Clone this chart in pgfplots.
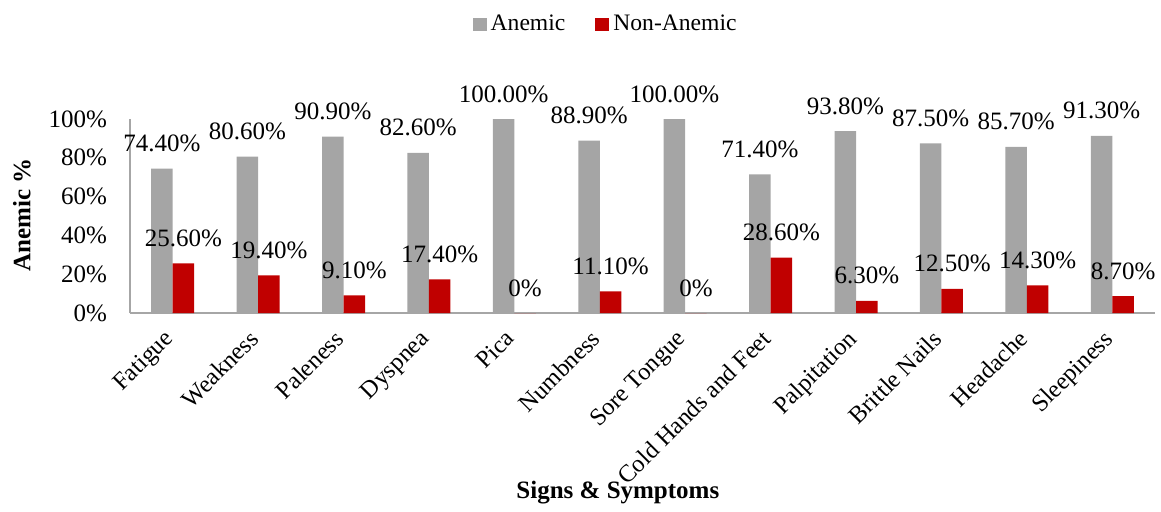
\documentclass[border=0pt]{standalone}
\usepackage{fontspec}
\setmainfont{Liberation Serif}
\usepackage{pgfplots}
\pgfplotsset{compat=1.18}
\definecolor{anem}{HTML}{A5A5A5}
\definecolor{nonanem}{HTML}{C00000}
\definecolor{axgray}{HTML}{A6A6A6}
\begin{document}
\begin{tikzpicture}
\path[use as bounding box] (-65pt,-99pt) rectangle (515.5pt,156.5pt);
\begin{axis}[
  at={(0,0)}, anchor=south west,
  scale only axis,
  width=512.5pt, height=97pt,
  ybar=0pt, bar width=10.75pt,
  xmin=-0.5, xmax=11.5,
  ymin=0, ymax=100,
  xtick={0,...,11},
  xticklabels={Fatigue,Weakness,Paleness,Dyspnea,Pica,Numbness,Sore Tongue,Cold Hands and Feet,Palpitation,Brittle Nails,Headache,Sleepiness},
  ytick={0,20,40,60,80,100},
  yticklabels={0\%,20\%,40\%,60\%,80\%,100\%},
  major tick length=0pt,
  axis lines*=left,
  axis line style={axgray, line width=0.6pt},
  ticklabel style={font=\fontsize{12.5}{14}\selectfont},
  yticklabel style={xshift=-8pt},
  xticklabel style={rotate=45, anchor=north east, font=\fontsize{12.2}{14}\selectfont, xshift=-5.6pt, yshift=1.6pt},
  xlabel={\textbf{Signs \& Symptoms}},
  ylabel={\textbf{Anemic \%}},
  xlabel style={at={(axis description cs:0.476,-0.928)}, anchor=center, font=\fontsize{12.5}{14}\selectfont},
  ylabel style={at={(axis description cs:-0.1054,0.505)}, anchor=center, rotate=0, font=\fontsize{12.5}{14}\selectfont},
  legend style={at={(axis description cs:0.465,1.487)}, anchor=center, draw=none, legend columns=2,
    font=\fontsize{11.8}{14}\selectfont, /tikz/every even column/.append style={column sep=13pt}},
  legend image code/.code={\fill[#1] (0pt,-3.3pt) rectangle (7pt,3.3pt);},
  point meta=explicit symbolic,
  nodes near coords,
  every node near coord/.append style={font=\fontsize{12.5}{14}\selectfont, black, anchor=base, yshift=8.5pt, inner sep=0pt},
]
\addplot[fill=anem, draw=none] coordinates {
(0,74.4) [74.40\%]
(1,80.6) [80.60\%]
(2,90.9) [90.90\%]
(3,82.6) [82.60\%]
(4,100) [100.00\%]
(5,88.9) [88.90\%]
(6,100) [100.00\%]
(7,71.4) [71.40\%]
(8,93.8) [93.80\%]
(9,87.5) [87.50\%]
(10,85.7) [85.70\%]
(11,91.3) [91.30\%]
};
\addplot[fill=nonanem, draw=none] coordinates {
(0,25.6) [25.60\%]
(1,19.4) [19.40\%]
(2,9.1) [9.10\%]
(3,17.4) [17.40\%]
(4,0) [0\%]
(5,11.1) [11.10\%]
(6,0) [0\%]
(7,28.6) [28.60\%]
(8,6.3) [6.30\%]
(9,12.5) [12.50\%]
(10,14.3) [14.30\%]
(11,8.7) [8.70\%]
};
\legend{Anemic,Non-Anemic}
\end{axis}
\end{tikzpicture}
\end{document}
